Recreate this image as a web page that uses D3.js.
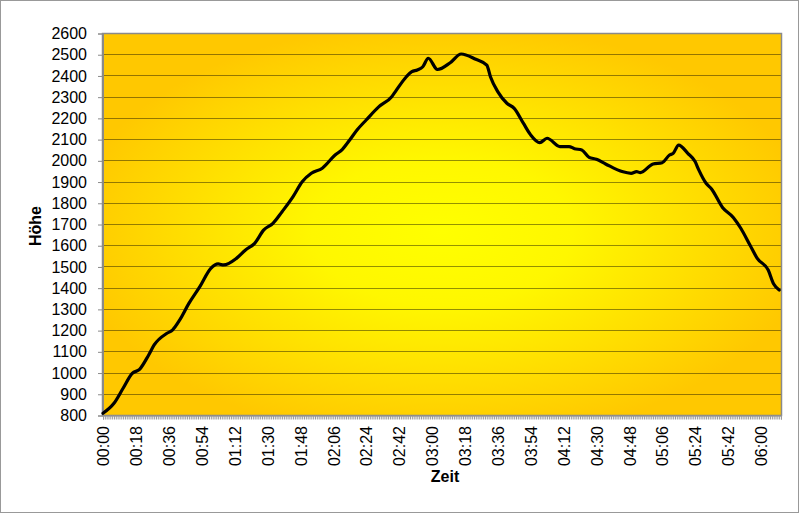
<!DOCTYPE html>
<html>
<head>
<meta charset="utf-8">
<script src="https://cdn.jsdelivr.net/npm/d3@7"></script>
<style>
  body { margin: 0; background: #fff; }
  svg { display: block; }
</style>
</head>
<body>
<svg id="chart"></svg>
<script>
// Zeitpunkte (Minuten seit Start) und gemessene Höhe
const zeiten = ["00:00","00:06","00:11","00:16","00:20","00:25","00:28","00:35","00:38","00:42",
  "00:47","00:53","00:59","01:03","01:06","01:13","01:18","01:23","01:28","01:33",
  "01:38","01:44","01:49","01:54","02:00","02:07","02:11","02:15","02:19","02:24",
  "02:31","02:38","02:40","02:46","02:49","02:52","02:55","02:58","03:03","03:10",
  "03:16","03:24","03:30","03:32","03:36","03:41","03:45","03:50","03:54","03:59",
  "04:03","04:10","04:15","04:18","04:22","04:26","04:30","04:35","04:44","04:49",
  "04:52","04:54","05:01","05:06","05:10","05:12","05:15","05:20","05:24","05:26",
  "05:30","05:33","05:39","05:45","05:49","05:54","05:58","06:04","06:07","06:10"];
const hoehe = [808,855,926,996,1015,1083,1130,1185,1200,1248,
  1326,1405,1491,1512,1507,1538,1578,1609,1672,1703,
  1758,1829,1899,1939,1963,2025,2052,2096,2143,2190,
  2253,2300,2324,2394,2418,2426,2441,2481,2428,2460,
  2501,2476,2449,2394,2324,2269,2245,2175,2120,2083,
  2104,2065,2065,2055,2049,2014,2005,1983,1947,1939,
  1947,1942,1983,1989,2025,2033,2072,2033,1994,1955,
  1892,1865,1778,1730,1680,1601,1538,1483,1417,1389];
const yTicks = d3.range(800, 2601, 100);
const xLabelMinutes = d3.range(0, 361, 18);
const lastMinute = 370;

const toMin = s => { const [h, m] = s.split(":").map(Number); return h * 60 + m; };
const fmt = m => String(Math.floor(m / 60)).padStart(2, "0") + ":" + String(m % 60).padStart(2, "0");
const data = zeiten.map((t, i) => ({min: toMin(t), value: hoehe[i]}));

const width = 799, height = 513;
const plot = {left: 103, top: 33, right: 781, bottom: 415};

const svg = d3.select("#chart")
  .attr("width", width)
  .attr("height", height)
  .attr("font-family", "Arial, 'Liberation Sans', sans-serif");

// outer frame
svg.append("rect")
  .attr("x", 0.5).attr("y", 0.5)
  .attr("width", width - 1).attr("height", height - 1)
  .attr("fill", "#fff").attr("stroke", "#999");

const defs = svg.append("defs");
const grad = defs.append("radialGradient")
  .attr("id", "bg")
  .attr("cx", "50%").attr("cy", "52%").attr("r", "55%");
grad.append("stop").attr("offset", "0%").attr("stop-color", "#ffff00");
grad.append("stop").attr("offset", "35%").attr("stop-color", "#fff700");
grad.append("stop").attr("offset", "100%").attr("stop-color", "#ffc800");

const xScale = d3.scaleLinear([0, lastMinute + 1], [plot.left, plot.right]);
const yScale = d3.scaleLinear([800, 2600], [plot.bottom, plot.top]);

svg.append("rect")
  .attr("x", plot.left).attr("y", plot.top)
  .attr("width", plot.right - plot.left)
  .attr("height", plot.bottom - plot.top)
  .attr("fill", "url(#bg)");

// gridlines
svg.append("g")
  .selectAll("line")
  .data(yTicks.slice(1))
  .join("line")
  .attr("x1", plot.left).attr("x2", plot.right)
  .attr("y1", d => Math.round(yScale(d)) + 0.5)
  .attr("y2", d => Math.round(yScale(d)) + 0.5)
  .attr("stroke", "#000")
  .attr("stroke-opacity", 0.42);

// plot border
svg.append("rect")
  .attr("x", plot.left - 0.5).attr("y", plot.top + 0.5)
  .attr("width", plot.right - plot.left + 1)
  .attr("height", plot.bottom - plot.top)
  .attr("fill", "none")
  .attr("stroke", "#8a8a8a")
  .attr("stroke-width", 1.5);

// y axis
const yAxis = svg.append("g")
  .attr("transform", `translate(${plot.left},0.5)`)
  .call(d3.axisLeft(yScale).tickValues(yTicks).tickSize(5).tickPadding(11).tickFormat(d3.format("d")));
yAxis.select(".domain").attr("stroke", "#8a8a8a");
yAxis.selectAll(".tick line").attr("stroke", "#8a8a8a");
yAxis.selectAll("text").attr("font-size", 16).attr("fill", "#000")
  .attr("font-family", "Arial, 'Liberation Sans', sans-serif");

// x axis: a tick per minute, labels every 18 minutes
const xAxis = svg.append("g")
  .attr("transform", `translate(0,${plot.bottom + 0.5})`)
  .call(d3.axisBottom(xScale).tickValues(d3.range(0, lastMinute + 2)).tickSize(4).tickFormat(""));
xAxis.select(".domain").attr("stroke", "#8a8a8a");
xAxis.selectAll(".tick line").attr("stroke", "#9a9a9a");

svg.append("g")
  .selectAll("text")
  .data(xLabelMinutes)
  .join("text")
  .attr("transform", d => `translate(${xScale(d) + 0.5},426) rotate(-90)`)
  .attr("text-anchor", "end")
  .attr("dy", "0.36em")
  .attr("font-size", 16)
  .attr("fill", "#000")
  .text(d => fmt(d));

// axis titles
svg.append("text")
  .attr("x", 445).attr("y", 482)
  .attr("text-anchor", "middle")
  .attr("font-size", 16)
  .attr("font-weight", "bold")
  .text("Zeit");

svg.append("text")
  .attr("transform", "translate(41,226) rotate(-90)")
  .attr("text-anchor", "middle")
  .attr("font-size", 16)
  .attr("font-weight", "bold")
  .text("Höhe");

// elevation line
svg.append("path")
  .datum(data)
  .attr("fill", "none")
  .attr("stroke", "#000")
  .attr("stroke-width", 3.2)
  .attr("stroke-linejoin", "round")
  .attr("stroke-linecap", "round")
  .attr("d", d3.line()
    .x(d => xScale(d.min))
    .y(d => yScale(d.value))
    .curve(d3.curveMonotoneX));
</script>
</body>
</html>
